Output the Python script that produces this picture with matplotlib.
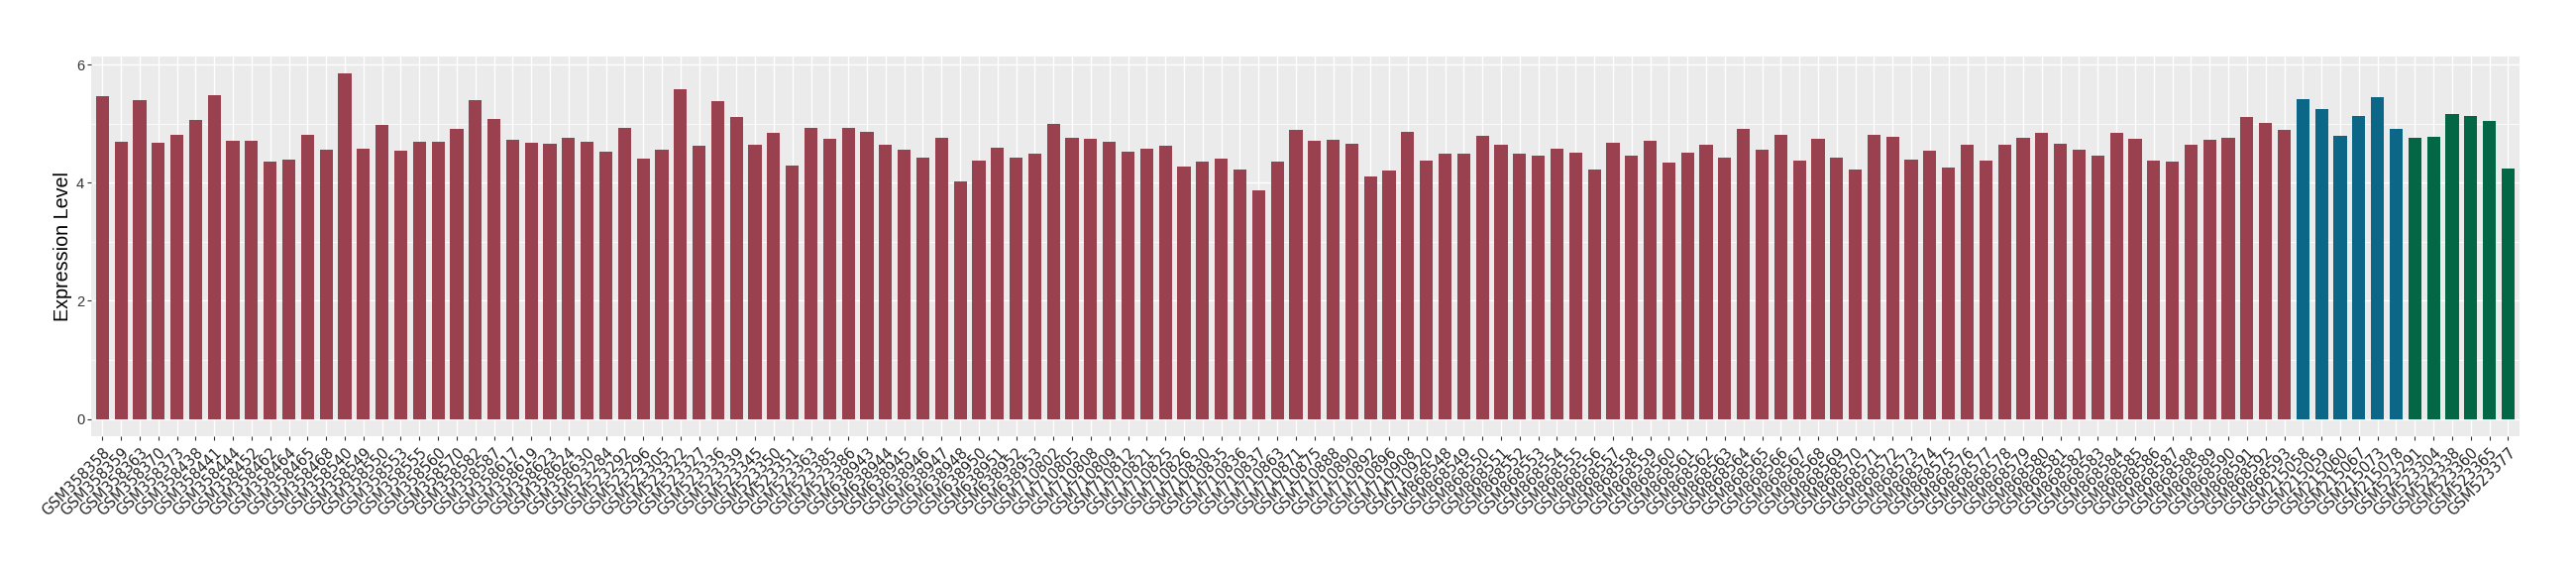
import matplotlib
matplotlib.use("Agg")
import matplotlib.pyplot as plt
import matplotlib.transforms as mtransforms
import numpy as np

samples = [
    "GSM358358", "GSM358359", "GSM358363", "GSM358370", "GSM358373", "GSM358438",
    "GSM358441", "GSM358444", "GSM358452", "GSM358462", "GSM358464", "GSM358465",
    "GSM358468", "GSM358540", "GSM358549", "GSM358550", "GSM358553", "GSM358555",
    "GSM358560", "GSM358570", "GSM358582", "GSM358587", "GSM358617", "GSM358619",
    "GSM358623", "GSM358624", "GSM358630", "GSM523284", "GSM523292", "GSM523296",
    "GSM523305", "GSM523322", "GSM523327", "GSM523336", "GSM523339", "GSM523345",
    "GSM523350", "GSM523351", "GSM523363", "GSM523385", "GSM523386", "GSM638943",
    "GSM638944", "GSM638945", "GSM638946", "GSM638947", "GSM638948", "GSM638950",
    "GSM638951", "GSM638952", "GSM638953", "GSM710802", "GSM710805", "GSM710808",
    "GSM710809", "GSM710812", "GSM710821", "GSM710825", "GSM710826", "GSM710830",
    "GSM710835", "GSM710836", "GSM710837", "GSM710863", "GSM710871", "GSM710875",
    "GSM710888", "GSM710890", "GSM710892", "GSM710896", "GSM710908", "GSM710920",
    "GSM868548", "GSM868549", "GSM868550", "GSM868551", "GSM868552", "GSM868553",
    "GSM868554", "GSM868555", "GSM868556", "GSM868557", "GSM868558", "GSM868559",
    "GSM868560", "GSM868561", "GSM868562", "GSM868563", "GSM868564", "GSM868565",
    "GSM868566", "GSM868567", "GSM868568", "GSM868569", "GSM868570", "GSM868571",
    "GSM868572", "GSM868573", "GSM868574", "GSM868575", "GSM868576", "GSM868577",
    "GSM868578", "GSM868579", "GSM868580", "GSM868581", "GSM868582", "GSM868583",
    "GSM868584", "GSM868585", "GSM868586", "GSM868587", "GSM868588", "GSM868589",
    "GSM868590", "GSM868591", "GSM868592", "GSM868593", "GSM215058", "GSM215059",
    "GSM215060", "GSM215067", "GSM215073", "GSM215078", "GSM523291", "GSM523304",
    "GSM523338", "GSM523360", "GSM523365", "GSM523377",
]

expression = [
    5.46, 4.69, 5.40, 4.68, 4.81, 5.06, 5.48, 4.71, 4.71, 4.36,
    4.39, 4.81, 4.56, 5.85, 4.57, 4.98, 4.54, 4.69, 4.69, 4.91,
    5.40, 5.08, 4.73, 4.68, 4.66, 4.76, 4.69, 4.52, 4.93, 4.41,
    4.56, 5.58, 4.63, 5.38, 5.11, 4.64, 4.84, 4.29, 4.93, 4.74,
    4.93, 4.86, 4.64, 4.56, 4.42, 4.76, 4.02, 4.37, 4.59, 4.42,
    4.49, 4.99, 4.76, 4.74, 4.69, 4.52, 4.57, 4.63, 4.27, 4.36,
    4.41, 4.22, 3.87, 4.36, 4.89, 4.71, 4.73, 4.66, 4.11, 4.21,
    4.86, 4.37, 4.49, 4.49, 4.79, 4.64, 4.49, 4.46, 4.57, 4.51,
    4.22, 4.68, 4.46, 4.71, 4.34, 4.51, 4.64, 4.42, 4.91, 4.56,
    4.81, 4.38, 4.74, 4.42, 4.22, 4.81, 4.78, 4.39, 4.54, 4.26,
    4.64, 4.37, 4.64, 4.76, 4.84, 4.66, 4.56, 4.46, 4.84, 4.74,
    4.37, 4.36, 4.64, 4.73, 4.76, 5.11, 5.01, 4.89, 5.42, 5.25,
    4.79, 5.13, 5.45, 4.91, 4.76, 4.78, 5.16, 5.13, 5.04, 4.24,
]

group_sizes = [118, 6, 6]
group_colors = ["#9A4150", "#0B6688", "#036745"]

colors = []
for n, c in zip(group_sizes, group_colors):
    colors += [c] * n

fig = plt.figure(figsize=(26, 5.8), dpi=100)
ax = fig.add_axes([92 / 2600, 1 - 440 / 580, (2542.7 - 92) / 2600, (440 - 56.7) / 580])
ax.set_facecolor("#EBEBEB")

x = np.arange(len(samples))
ax.bar(x, expression, width=0.7, color=colors, zorder=3)

ymax = max(expression)
ax.set_ylim(-0.05 * ymax, ymax * 1.05)
ax.set_xlim(-0.6, len(samples) - 1 + 0.6)

ax.set_yticks([0, 2, 4, 6])
ax.set_yticks([1, 3, 5], minor=True)
ax.set_xticks(x)
ax.set_xticklabels(samples, rotation=45, ha="right", va="top",
                   rotation_mode="anchor", fontsize=10.6, color="#262626",
                   family="DejaVu Sans")
offset = mtransforms.ScaledTranslation(0.045, 0, fig.dpi_scale_trans)
for lab in ax.get_xticklabels():
    lab.set_transform(lab.get_transform() + offset)
for lab in ax.get_yticklabels():
    lab.set_fontfamily("Liberation Sans")
    lab.set_fontsize(10.5)
    lab.set_color("#333333")

ax.grid(which="major", axis="both", color="white", linewidth=1.0, zorder=0)
ax.grid(which="minor", axis="y", color="white", linewidth=0.55, zorder=0)
ax.tick_params(axis="both", which="major", length=2.9, width=0.8, color="#333333", pad=2)
ax.tick_params(axis="x", which="major", pad=3.3)
ax.tick_params(axis="y", which="minor", length=0)
for s in ax.spines.values():
    s.set_visible(False)

ax.set_ylabel("Expression Level", fontsize=14.2, family="Liberation Sans",
              labelpad=3, color="black")
ax.set_xlabel("")

fig.savefig("out.png", dpi=100)
